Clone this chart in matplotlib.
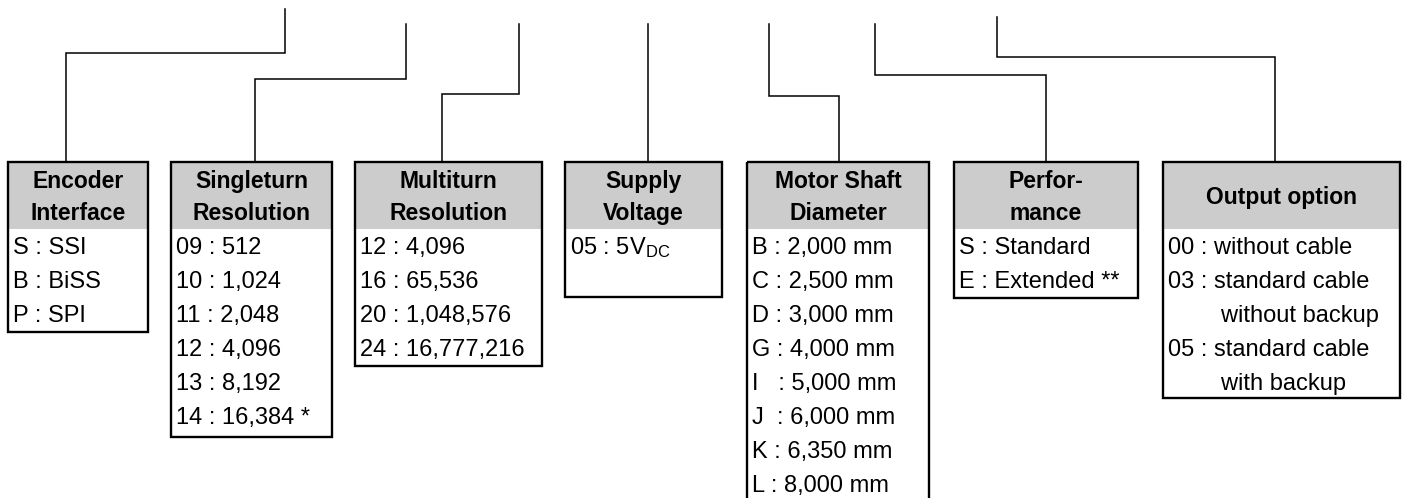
#Order code diagram: boxes with option lists, joined to the code positions above.
import matplotlib.pyplot as plt
from matplotlib.patches import Rectangle

plt.rcParams['font.family'] = ['Liberation Sans', 'DejaVu Sans']
plt.rcParams['mathtext.fontset'] = 'custom'
plt.rcParams['mathtext.rm'] = 'Liberation Sans'
plt.rcParams['mathtext.it'] = 'Liberation Sans:italic'

#Box headers and their option lists
headers = ['Encoder\nInterface', 'Singleturn\nResolution', 'Multiturn\nResolution',
           'Supply\nVoltage', 'Motor Shaft\nDiameter', 'Perfor-\nmance', 'Output option']
encoder = ['S : SSI', 'B : BiSS', 'P : SPI']
singleturn = ['09 : 512', '10 : 1,024', '11 : 2,048', '12 : 4,096', '13 : 8,192', '14 : 16,384 *']
multiturn = ['12 : 4,096', '16 : 65,536', '20 : 1,048,576', '24 : 16,777,216']
supply = ['05 : 5V$_\\mathrm{DC}$']
shaft = ['B : 2,000 mm', 'C : 2,500 mm', 'D : 3,000 mm', 'G : 4,000 mm',
         'I   : 5,000 mm', 'J  : 6,000 mm', 'K : 6,350 mm', 'L : 8,000 mm']
performance = ['S : Standard', 'E : Extended **']
output = ['00 : without cable', '03 : standard cable', '        without backup',
          '05 : standard cable', '        with backup']
items = [encoder, singleturn, multiturn, supply, shaft, performance, output]

#Layout in pixels (left, right, bottom of each box)
box_left = [8, 171, 355, 565, 747, 954, 1163]
box_right = [148, 332, 542, 722, 929, 1138, 1400]
box_bottom = [332, 437, 366, 297, 502, 298, 398]
box_top = 162
head_bottom = 229
row0 = 247
row_step = 34

#Connector paths: top x, top y, elbow y, box x
conn_top_x = [285, 406, 519, 648, 769, 875, 997]
conn_top_y = [9, 24, 24, 24, 24, 24, 17]
conn_elbow_y = [53, 79, 94, 94, 96, 75, 57]
conn_box_x = [66, 255, 442, 648, 839, 1046, 1275]

fig = plt.figure(figsize=(14.03, 4.98), dpi=100)
ax = fig.add_axes([0, 0, 1, 1])
ax.set_xlim(0, 1403)
ax.set_ylim(498, 0)
ax.axis('off')

for i in range(len(headers)):
    l, r, b = box_left[i], box_right[i], box_bottom[i]
    #gray header band
    ax.add_patch(Rectangle((l, box_top), r - l, head_bottom - box_top,
                           facecolor='#cccccc', edgecolor='none', zorder=1))
    #outer frame
    ax.add_patch(Rectangle((l, box_top), r - l, b - box_top,
                           facecolor='none', edgecolor='black', lw=1.7, zorder=3))
    ax.text((l + r) / 2, (box_top + head_bottom) / 2 + 2, headers[i],
            ha='center', va='center', fontsize=16.5, fontweight='bold',
            linespacing=1.45, zorder=4)
    for j, s in enumerate(items[i]):
        ax.text(l + 5, row0 + 1 + j * row_step, s, ha='left', va='center',
                fontsize=17, zorder=4)

    #connector line
    xs = [conn_top_x[i], conn_top_x[i], conn_box_x[i], conn_box_x[i]]
    ys = [conn_top_y[i], conn_elbow_y[i], conn_elbow_y[i], box_top]
    ax.plot(xs, ys, color='black', lw=1.1, solid_joinstyle='miter', zorder=2)

fig.savefig('out.png', dpi=100)
